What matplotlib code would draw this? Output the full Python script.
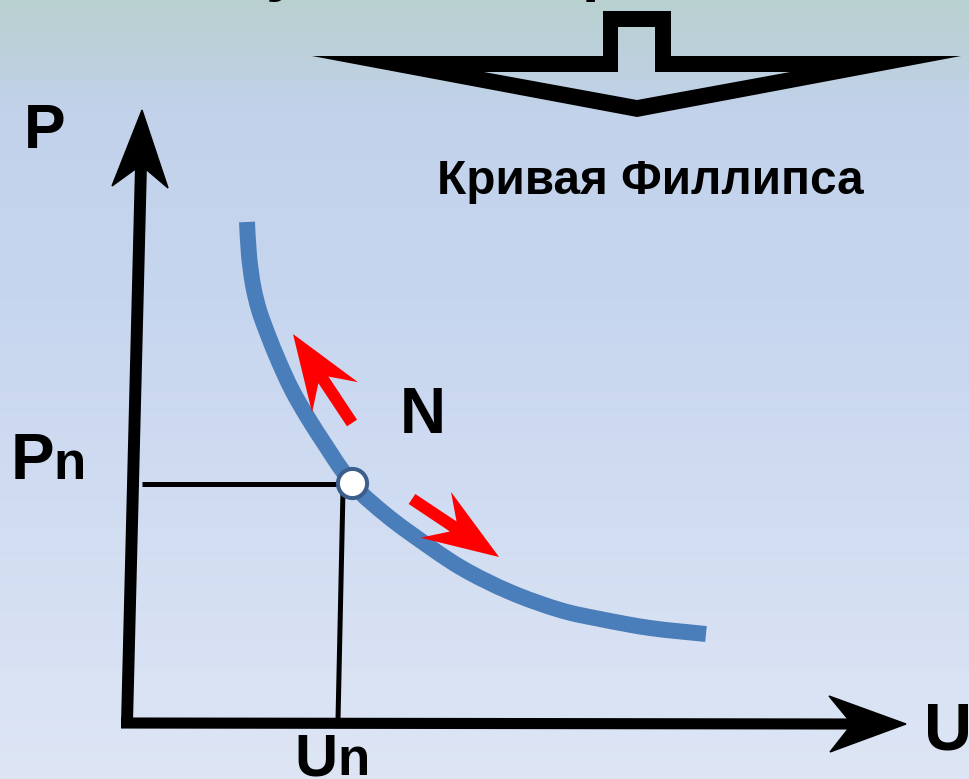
import numpy as np
import matplotlib
matplotlib.use("Agg")
import matplotlib.pyplot as plt
from matplotlib.path import Path
from matplotlib.patches import PathPatch, Polygon

plt.rcParams['font.family'] = ['Liberation Sans', 'DejaVu Sans']

# --- data (pixel coords of the picture, y downwards) ---
curve_x = [247, 249, 253, 259, 268, 279, 292, 308, 326, 342, 360, 385, 410,
           460, 510, 560, 600, 650, 706]
curve_y = [222, 255, 285, 310, 335, 362, 390, 418, 446, 470, 492, 514, 533,
           567, 592, 610, 619, 628, 634]
point_n = (352, 483)
pn_line_x = [142, 340]
pn_line_y = [484, 484]
un_line_x = [343, 338]
un_line_y = [490, 720]

yaxis_x = [127, 141]
yaxis_y = [723, 165]
yhead_x = [142, 112, 141, 168]
yhead_y = [110, 186, 165, 188]
xaxis_x = [121, 852]
xaxis_y = [723, 724]
xhead_x = [906, 829, 852, 830]
xhead_y = [724, 696, 724, 752]

# red arrows: (tail, tip)
red_arrows = [((352, 423), (293, 334)),
              ((412, 499), (499, 557))]

# top hollow arrow
big_outer_x = [603, 671, 671, 961, 637, 312, 603]
big_outer_y = [11, 11, 56, 56, 117, 56, 56]
big_inner_x = [618, 655, 655, 790, 637, 484, 618]
big_inner_y = [27, 27, 72, 72, 100, 72, 72]

title = "Кривая Филлипса"

# background gradient stops
grad_y = [0, 40, 110, 300, 500, 779]
grad_rgb = [(185, 209, 209), (188, 208, 216), (193, 210, 234),
            (199, 214, 239), (208, 220, 241), (222, 230, 245)]

W, H = 969, 779
fig = plt.figure(figsize=(W / 100, H / 100), dpi=100)
ax = fig.add_axes([0, 0, 1, 1])
ax.set_xlim(0, W)
ax.set_ylim(H, 0)
ax.axis("off")

rows = np.arange(H)
cols = np.array(grad_rgb) / 255.0
bg = np.stack([np.interp(rows, grad_y, cols[:, k]) for k in range(3)], axis=-1)
bg = np.repeat(bg[:, None, :], 2, axis=1)
ax.imshow(bg, extent=[0, W, H, 0], aspect="auto", zorder=0)

# top arrow (outline)
verts = list(zip(big_outer_x, big_outer_y)) + [(big_outer_x[0], big_outer_y[0])]
inner = list(zip(big_inner_x, big_inner_y))[::-1]
verts += inner + [inner[0]]
codes = ([Path.MOVETO] + [Path.LINETO] * (len(big_outer_x) - 1) + [Path.CLOSEPOLY]
         + [Path.MOVETO] + [Path.LINETO] * (len(inner) - 1) + [Path.CLOSEPOLY])
ax.add_patch(PathPatch(Path(verts, codes), facecolor="black", edgecolor="none", zorder=2))

# cut-off heading above the picture
ax.text(266, -11, "у", fontsize=45, fontweight="bold", ha="left", va="baseline", zorder=3)
ax.text(582, -11, "р", fontsize=45, fontweight="bold", ha="left", va="baseline", zorder=3)

# axes
ax.plot(yaxis_x, yaxis_y, color="black", lw=8.6, solid_capstyle="butt", zorder=3)
ax.add_patch(Polygon(list(zip(yhead_x, yhead_y)), closed=True, color="black", zorder=3))
ax.plot(xaxis_x, xaxis_y, color="black", lw=8.0, solid_capstyle="butt", zorder=3)
ax.add_patch(Polygon(list(zip(xhead_x, xhead_y)), closed=True, color="black", zorder=3))

# guide lines
ax.plot(pn_line_x, pn_line_y, color="black", lw=3.6, solid_capstyle="butt", zorder=3)
ax.plot(un_line_x, un_line_y, color="black", lw=3.6, solid_capstyle="butt", zorder=3)

# phillips curve: smooth bezier through the read points
pts = np.column_stack([curve_x, curve_y]).astype(float)
cverts = [pts[0]]
ccodes = [Path.MOVETO]
for i in range(len(pts) - 1):
    p0 = pts[i - 1] if i > 0 else pts[i]
    p1, p2 = pts[i], pts[i + 1]
    p3 = pts[i + 2] if i + 2 < len(pts) else pts[i + 1]
    cverts += [p1 + (p2 - p0) / 6, p2 - (p3 - p1) / 6, p2]
    ccodes += [Path.CURVE4] * 3
ax.add_patch(PathPatch(Path(cverts, ccodes), facecolor="none", edgecolor="#4a7ebb",
                       lw=11.5, capstyle="butt", zorder=4))
ax.plot(*point_n, "o", ms=21, mfc="white", mec="#3c5e8c", mew=2.9, zorder=6)


def arrow_poly(tail, tip, head_len=76, half_w=27.5, notch=55, shaft=6):
    tail = np.array(tail, float)
    tip = np.array(tip, float)
    d = tip - tail
    u = d / np.hypot(*d)
    n = np.array([-u[1], u[0]])
    return [tip,
            tip - u * head_len + n * half_w,
            tip - u * notch + n * shaft,
            tail + n * shaft,
            tail - n * shaft,
            tip - u * notch - n * shaft,
            tip - u * head_len - n * half_w]


for tail, tip in red_arrows:
    ax.add_patch(Polygon(arrow_poly(tail, tip), closed=True, color="#ff0000",
                         ec="none", zorder=5))

# labels
ax.text(437, 194, title, fontsize=34.4, fontweight="bold", ha="left", va="baseline", zorder=6)
ax.text(24, 148, "P", fontsize=45, fontweight="bold", ha="left", va="baseline", zorder=6)
ax.text(11, 479, "P", fontsize=47, fontweight="bold", ha="left", va="baseline", zorder=6)
ax.text(53, 479, "n", fontsize=38, fontweight="bold", ha="left", va="baseline", zorder=6)
ax.text(400, 433, "N", fontsize=46, fontweight="bold", ha="left", va="baseline", zorder=6)
ax.text(294, 775, "U", fontsize=43, fontweight="bold", ha="left", va="baseline", zorder=6)
ax.text(337, 775, "n", fontsize=38, fontweight="bold", ha="left", va="baseline", zorder=6)
ax.text(924, 750, "U", fontsize=48, fontweight="bold", ha="left", va="baseline", zorder=6)

fig.savefig("out.png", dpi=100)
